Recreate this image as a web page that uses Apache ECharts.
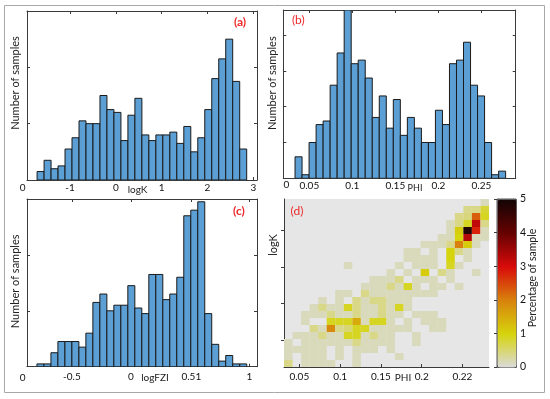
<!DOCTYPE html>
<html><head><meta charset="utf-8">
<script src="https://cdn.jsdelivr.net/npm/echarts@6/dist/echarts.min.js"></script>
<style>html,body{margin:0;padding:0;background:#fff}#c{width:550px;height:399px}</style>
</head><body><div id="c"></div>
<script>
// ---- data ----
const aBinStart = -1.72, aBinWidth = 0.1525;
const aCounts = [3,7,4,5,11,15,21,20,20,30,25,24,14,23,29,16,14,16,16,17,13,19,10,15,25,36,43,50,35,11];
const aTickValues = [-1,0,1,2,3];

const bBinStart = 0.0334, bBinWidth = 0.00816;
const bCounts = [6,1,10,15,16,26,35,47,32,33,28,17,23,14,22,12,17,14,10,10,19,15,32,33,38,26,23,10,1,2];
const bTickValues = [0.05,0.1,0.15,0.2,0.25];

const cBinStart = -0.795, cBinWidth = 0.0591;
const cCounts = [1,1,5,9,9,9,7,12,23,26,20,22,22,29,21,19,33,33,24,26,32,54,56,59,19,8,2,4,1,1];
const cTickValues = [-0.5,0,0.51,1];

const dTickValues = [0.05,0.1,0.15,0.2,0.25];
const dTickLabels = ['0.05','0.1','0.15','0.2','0.22'];
const dYTickValues = [-1,0,1,2];
const heatXStart = 0.0312, heatXWidth = 0.01047;
const heatYBottom = -1.72, heatYHeight = 0.19;
// percentage of samples, rows from top (high logK) to bottom, 24 PHI columns
const heatRows = [
 [0,0,0,0,0,0, 0,0,0,0,0,0, 0,0,0,0,0,0, 0,0,0,0,0,.15],
 [0,0,0,0,0,0, 0,0,0,0,0,0, 0,0,0,0,0,0, 0,0,0,.4,.4,.8],
 [0,0,0,0,0,0, 0,0,0,0,0,0, 0,0,0,0,0,0, 0,0,.4,.45,2.3,.9],
 [0,0,0,0,0,0, 0,0,0,0,0,0, 0,0,0,0,0,0, 0,.15,.4,.9,3.2,.4],
 [0,0,0,0,0,0, 0,0,0,0,0,0, 0,0,0,0,0,0, 0,.15,1.1,4.8,2.8,.15],
 [0,0,0,0,0,0, 0,0,0,0,0,0, 0,0,0,0,0,0, .15,.15,1.0,3.3,.15,.15],
 [0,0,0,0,0,0, 0,0,0,0,0,0, 0,0,0,0,.15,.15, .15,.4,2.0,1.1,.15,0],
 [0,0,0,0,0,0, 0,0,0,0,0,0, 0,0,.15,.15,0,.15, 0,1.0,.4,.15,0,0],
 [0,0,0,0,0,0, 0,0,0,0,0,0, 0,0,.15,.15,.15,.15, 0,1.0,0,.15,0,0],
 [0,0,0,0,0,0, 0,.15,0,0,0,0, 0,.15,0,.15,.15,.15, 0,.9,.15,0,0,0],
 [0,0,0,0,0,0, 0,0,0,0,0,0, .15,0,.15,0,1.1,0, .4,.15,0,0,.15,0],
 [0,0,0,0,0,0, 0,0,0,0,.15,.15, .15,.4,0,.15,.15,.15, 0,.15,0,0,0,0],
 [0,0,0,0,0,0, 0,0,0,.15,.15,.15, .4,.15,.9,.15,0,.15, .15,0,.15,0,0,0],
 [0,0,0,0,0,0, .15,.15,0,.4,.15,.15, .15,.15,.15,.15,.15,.15, 0,0,0,0,0,0],
 [0,0,0,0,.15,0, .15,0,.4,.15,.4,.4, .15,.15,.15,0,0,0, 0,0,0,0,0,0],
 [0,0,0,.15,.4,.15, .15,.9,.4,.15,.15,.4, .15,.9,.15,0,0,0, 0,0,0,0,0,0],
 [0,0,.15,.15,.15,.4, .15,.15,.4,.15,.15,.4, .15,.15,0,.15,.15,.15, 0,0,0,0,0,0],
 [0,0,.15,0,0,.9, .9,.9,1.5,.15,.9,.9, .15,0,.15,0,.15,.15, .15,0,0,0,0,0],
 [0,0,0,.4,.15,1.9, .4,.5,.9,.9,.15,.15, .15,.15,.15,0,0,.15, .15,0,0,0,0,0],
 [0,.15,.15,.15,.4,.15, .15,.9,.9,.15,.4,.15, .15,0,0,.15,0,0, 0,0,0,0,0,0],
 [.15,0,.15,.15,.15,.15, .15,.15,.4,.15,.15,.15, .15,0,0,.15,0,0, 0,0,0,0,0,0],
 [.15,.15,.15,.15,.15,0, .15,0,.15,.15,.15,0, .15,0,0,0,0,0, 0,0,0,0,0,0],
 [.15,0,.15,.15,.15,0, .15,0,.15,0,0,0, 0,.15,0,0,0,0, 0,0,0,0,0,0],
 [.4,0,.15,.15,.15,.15, 0,0,.15,0,0,0, 0,0,0,0,0,0, 0,0,0,0,0,0]
];
const colorStops = ['#dadada','#d6d40c','#d8820c','#d80a0a','#660202','#120404'];

// ---- chart ----
const FONT = 'Lato';
const AX = '#3a3a3a';
const chart = echarts.init(document.getElementById('c'), null, {renderer:'canvas'});

function histSeries(xi, yi, start, width, counts) {
  return {
    type:'custom', xAxisIndex:xi, yAxisIndex:yi, clip:true,
    data: counts.map((c,i) => [start + i*width, start + (i+1)*width, c]),
    encode:{x:[0,1], y:2},
    renderItem:(params, api) => {
      const p0 = api.coord([api.value(0), api.value(2)]);
      const p1 = api.coord([api.value(1), 0]);
      return {type:'rect', shape:{x:p0[0], y:p0[1], width:p1[0]-p0[0], height:p1[1]-p0[1]},
        style:{fill:'#5b9fd4', stroke:'#1a1a1a', lineWidth:1}};
    }
  };
}
const heatData = [];
heatRows.forEach((row, r) => row.forEach((v, c) => {
  if (v > 0) {
    const x0 = heatXStart + c*heatXWidth;
    const y0 = heatYBottom + (heatRows.length - 1 - r)*heatYHeight;
    heatData.push([x0, y0, v]);
  }
}));

const lbl = {fontFamily:FONT, fontSize:10, color:'#111'};
function xBox(grid, min, max, ticks, pos, label, extra) {
  return Object.assign({
    gridIndex:grid, type:'value', min, max, position:pos,
    axisLine:{show:true, onZero:false, lineStyle:{color:AX, width:1}},
    axisTick:{show:true, inside:true, length:3, customValues:ticks, lineStyle:{color:AX}},
    axisLabel:label ? Object.assign({customValues:ticks}, lbl, label) : {show:false},
    splitLine:{show:false}
  }, extra || {});
}
function yBox(grid, min, max, ticks, pos, extra) {
  return Object.assign({
    gridIndex:grid, type:'value', min, max, position:pos,
    axisLine:{show:true, onZero:false, lineStyle:{color:AX, width:1}},
    axisTick:{show:true, inside:true, length:3, customValues:ticks, lineStyle:{color:AX}},
    axisLabel:{show:false}, splitLine:{show:false}
  }, extra || {});
}
const yName = (text, gap, pad) => ({name:text, nameLocation:'middle', nameGap:gap, nameMoveOverlap:false,
  nameTextStyle:{fontFamily:FONT, fontSize:11, color:'#222', padding:[0,0,0,pad]}});
const xName = (text, gap, padL, padR, size) => ({name:text, nameLocation:'middle', nameGap:gap, nameMoveOverlap:false,
  nameTextStyle:{fontFamily:FONT, fontSize:size||10, color:'#222', padding:[0,padR,0,padL]}});

const option = {
  animation:false,
  backgroundColor:'#fff',
  grid:[
    {left:27, top:11, width:230, height:169},
    {left:283.3, top:10, width:232.4, height:168.3},
    {left:27, top:199, width:230, height:167.7},
    {left:284, top:199, width:205, height:168, show:true, backgroundColor:'#e6e6e6', borderWidth:0},
    {left:497, top:199, width:19, height:168}
  ],
  xAxis:[
    xBox(0, -1.94, 3.08, aTickValues, 'bottom', {margin:3}, xName('logK', 5, 0, 9)),
    xBox(0, -1.94, 3.08, aTickValues, 'top', null),
    xBox(1, 0.01976, 0.2899, bTickValues, 'bottom', {margin:2}, xName('PHI', 5.5, 31, 0, 9)),
    xBox(1, 0.01976, 0.2899, bTickValues, 'top', null),
    xBox(2, -0.879, 1.065, cTickValues, 'bottom', {margin:5}, xName('logFZI', 6, 26, 0)),
    xBox(2, -0.879, 1.065, cTickValues, 'top', null),
    xBox(3, 0.0312, 0.2825, dTickValues, 'bottom', {margin:5, formatter:(v) => {
      let best = 0; dTickValues.forEach((t,i) => { if (Math.abs(t - v) < Math.abs(dTickValues[best] - v)) best = i; });
      return dTickLabels[best];
    }}, xName('PHI', 6, 33, 0)),
    {gridIndex:4, type:'value', min:0, max:1, show:false}
  ],
  yAxis:[
    yBox(0, 0, 60, [20,40], 'left', yName('Number of samples', 6.5, 25)),
    yBox(0, 0, 60, [20,40], 'right'),
    yBox(1, 0, 47, [10,20,30,40], 'left', yName('Number of samples', 5.8, 22)),
    yBox(1, 0, 47, [10,20,30,40], 'right'),
    yBox(2, 0, 60, [20,40], 'left', yName('Number of samples', 6.5, 3)),
    yBox(2, 0, 60, [20,40], 'right'),
    yBox(3, -1.72, 2.84, dYTickValues, 'left',
      {axisTick:{show:true, inside:false, length:3, customValues:dYTickValues, lineStyle:{color:AX}}}),
    {gridIndex:4, type:'value', min:0, max:5, interval:1, position:'right',
      axisLine:{show:false}, axisTick:{show:true, inside:true, length:3, lineStyle:{color:AX}},
      axisLabel:Object.assign({margin:4}, lbl, {fontSize:10.5}), splitLine:{show:false}}
  ],
  visualMap:{
    type:'continuous', min:0, max:5, dimension:2, seriesIndex:3, show:true,
    left:497, top:199, itemWidth:19, itemHeight:168, calculable:false, padding:0,
    borderColor:'#555', borderWidth:1, inRange:{color:colorStops}
  },
  series:[
    histSeries(0, 0, aBinStart, aBinWidth, aCounts),
    histSeries(2, 2, bBinStart, bBinWidth, bCounts),
    histSeries(4, 4, cBinStart, cBinWidth, cCounts),
    {
      type:'custom', xAxisIndex:6, yAxisIndex:6, clip:true, data:heatData,
      encode:{x:0, y:1},
      renderItem:(params, api) => {
        const p0 = api.coord([api.value(0), api.value(1) + heatYHeight]);
        const p1 = api.coord([api.value(0) + heatXWidth, api.value(1)]);
        return {type:'rect', shape:{x:p0[0], y:p0[1], width:p1[0]-p0[0], height:p1[1]-p0[1]},
          style:{fill:api.visual('color')}};
      }
    }
  ],
  graphic:[
    {type:'rect', shape:{x:4.5, y:5.5, width:540, height:387}, style:{fill:'none', stroke:'#a8a8a8', lineWidth:1}, silent:true},
    {type:'rect', shape:{x:497, y:199, width:19, height:168}, style:{fill:'none', stroke:'#555', lineWidth:1}, silent:true},
    {type:'text', x:240, y:22, style:{text:'(a)', fill:'#ee2a2a', font:'bold 12px Lato', align:'center', verticalAlign:'middle'}},
    {type:'text', x:298.3, y:20, style:{text:'(b)', fill:'#ee2a2a', font:'12px Lato', align:'center', verticalAlign:'middle'}},
    {type:'text', x:239, y:211, style:{text:'(c)', fill:'#ee2a2a', font:'bold 12px Lato', align:'center', verticalAlign:'middle'}},
    {type:'text', x:297, y:211, style:{text:'(d)', fill:'#ee2a2a', font:'12px Lato', align:'center', verticalAlign:'middle'}},
    {type:'text', x:22.7, y:187.7, style:{text:'0', fill:'#111', font:'10px Lato', align:'center', verticalAlign:'middle'}},
    {type:'text', x:286.3, y:185, style:{text:'0', fill:'#111', font:'10px Lato', align:'center', verticalAlign:'middle'}},
    {type:'text', x:22.7, y:377.7, style:{text:'0', fill:'#111', font:'10px Lato', align:'center', verticalAlign:'middle'}},
    {type:'text', x:273, y:245, rotation:Math.PI/2, style:{text:'logK', fill:'#222', font:'11px Lato', align:'center', verticalAlign:'middle'}},
    {type:'text', x:533, y:278, rotation:Math.PI/2, style:{text:'Percentage of sample', fill:'#222', font:'10.5px Lato', align:'center', verticalAlign:'middle'}}
  ]
};
chart.setOption(option);
</script></body></html>
